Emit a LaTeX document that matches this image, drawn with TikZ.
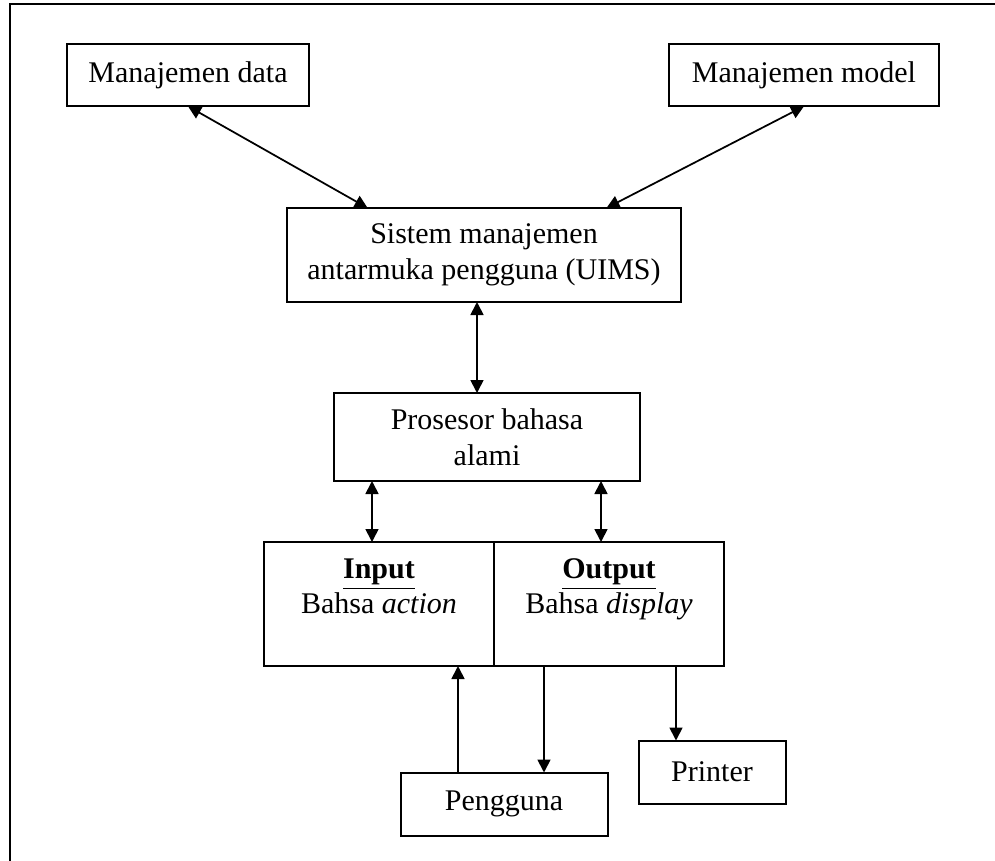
\documentclass[tikz,border=0pt]{standalone}
\usepackage{fontspec}
\setmainfont{Liberation Serif}
\usetikzlibrary{arrows.meta,positioning}

\begin{document}
\begin{tikzpicture}[x=0.4pt,y=-0.4pt,>={Triangle[length=5.2pt,width=5.2pt]},
	font=\fontsize{12}{14.2}\selectfont,
	box/.style={draw,line width=0.8pt,align=center,inner sep=2pt,outer sep=0pt},
	link/.style={line width=0.7pt}]
	\useasboundingbox (0,0) rectangle (995,861);
	\draw[line width=0.8pt] (995,4) -- (10,4) -- (10,861);

	\node [box, minimum width=97pt, minimum height=25pt] (data) at (188,75) {Manajemen data};
	\node [box, minimum width=108pt, minimum height=25pt] (model) at (804,75) {Manajemen model};
	\node [box, minimum width=157.6pt, minimum height=37.6pt] (uims) at (484,255)
		{Sistem manajemen\\antarmuka pengguna (UIMS)};
	\node [box, minimum width=122.4pt, minimum height=35.2pt] (pros) at (487,437)
		{Prosesor bahasa\\alami};
	\node [box, minimum width=92pt, minimum height=49.6pt] (inp) at (379,604)
		{\underline{\textbf{Input}}\\Bahsa \textit{action}\\\mbox{}};
	\node [box, minimum width=92pt, minimum height=49.6pt, right=0pt of inp] (outp)
		{\underline{\textbf{Output}}\\Bahsa \textit{display}\\\mbox{}};
	\node [box, minimum width=82.8pt, minimum height=25.2pt] (peng) at (504,804) {Pengguna};
	\node [box, minimum width=58.8pt, minimum height=25.2pt] (prn) at (712,772) {Printer};

	\path[link]
		(data.south) edge [<->] (uims.158)
		(model.south) edge [<->] (uims.21)
		([xshift=-2.8pt]uims.south) edge [<->] ([xshift=-2.8pt]uims.south |- pros.north)
		([xshift=-2.8pt]inp.north) edge [<->] ([xshift=-2.8pt]inp.north |- pros.south)
		([xshift=-3.2pt]outp.north) edge [<->] ([xshift=-3.2pt]outp.north |- pros.south)
		([xshift=-18.4pt]peng.north) edge [->] ([xshift=-18.4pt]peng.north |- inp.south)
		([xshift=16pt]peng.north |- outp.south) edge [->] ([xshift=16pt]peng.north)
		([xshift=-14.4pt]prn.north |- outp.south) edge [->] ([xshift=-14.4pt]prn.north)
		;

\end{tikzpicture}
\end{document}
